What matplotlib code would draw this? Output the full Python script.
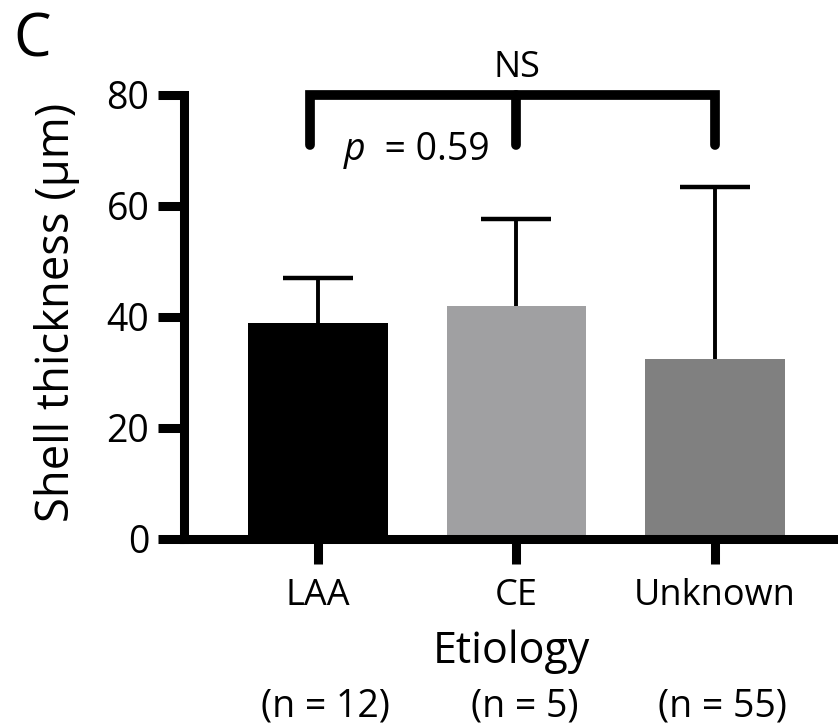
import matplotlib.pyplot as plt
import numpy as np

# Data
groups = ['LAA', 'CE', 'Unknown']
n_counts = [12, 5, 55]
means = [38.9, 42.0, 32.4]
upper_err = [8.1, 15.7, 31.0]
bar_colors = ['#000000', '#a0a0a2', '#808080']
y_ticks = [0, 20, 40, 60, 80]
p_value = 0.59
bracket_top = 80
bracket_leg = 71

plt.rcParams['font.family'] = ['Open Sans', 'DejaVu Sans']
plt.rcParams['axes.linewidth'] = 6.5

fig = plt.figure(figsize=(8.38, 7.25), dpi=100)
ax = fig.add_axes([0.2196, 0.2566, 0.7804, 0.6124])

x = np.arange(len(groups))

# Bars with upper error only
ax.bar(x, means, width=0.705, color=bar_colors, zorder=2)
eb = ax.errorbar(x, means, yerr=[np.zeros(len(means)), upper_err], fmt='none',
                 ecolor='black', elinewidth=2.8, capsize=25, capthick=3.2, zorder=3)
# hide the caps sitting on the bar tops
eb[1][0].set_visible(False)

# Axes styling
ax.set_xlim(-0.675, 2.62)
ax.set_ylim(0, 80)
ax.set_yticks(y_ticks)
ax.set_xticks(x)
ax.set_xticklabels(groups)
ax.spines['top'].set_visible(False)
ax.spines['right'].set_visible(False)
ax.tick_params(axis='y', length=19, width=6.5, pad=6, labelsize=27, color='black')
ax.tick_params(axis='x', length=18, width=6.5, pad=10, labelsize=26, color='black')

ax.set_ylabel('Shell thickness (µm)', fontsize=32.7, va='center')
ax.yaxis.set_label_coords(-0.194, 0.51)
ax.set_xlabel('Etiology', fontsize=31, labelpad=11)

# Group sizes under the axis label
for xi, n in zip(x, n_counts):
    ax.text(xi + 0.04, -0.377, f'(n = {n})', transform=ax.get_xaxis_transform(),
            ha='center', va='center', fontsize=27)

# Significance bracket
ax.plot([x[0] - 0.04, x[0] - 0.04, x[2], x[2]],
        [bracket_leg, bracket_top, bracket_top, bracket_leg],
        color='black', lw=7, clip_on=False, solid_capstyle='round',
        solid_joinstyle='miter', zorder=4)
ax.plot([x[1], x[1]], [bracket_top, bracket_leg], color='black', lw=7,
        clip_on=False, solid_capstyle='round', zorder=4)
ax.text(x[1], bracket_top + 1.6, 'NS', ha='center', va='bottom', fontsize=26)

p_txt = ax.text(0.13, 68.3, 'p', style='italic', ha='left', va='baseline', fontsize=27)
ax.annotate(f'  = {p_value}', xy=(1, 0), xycoords=p_txt, ha='left', va='bottom',
            fontsize=27)

# Panel letter
fig.text(0.016, 0.985, 'C', fontsize=43, ha='left', va='top')

fig.savefig('out.png', dpi=100)
